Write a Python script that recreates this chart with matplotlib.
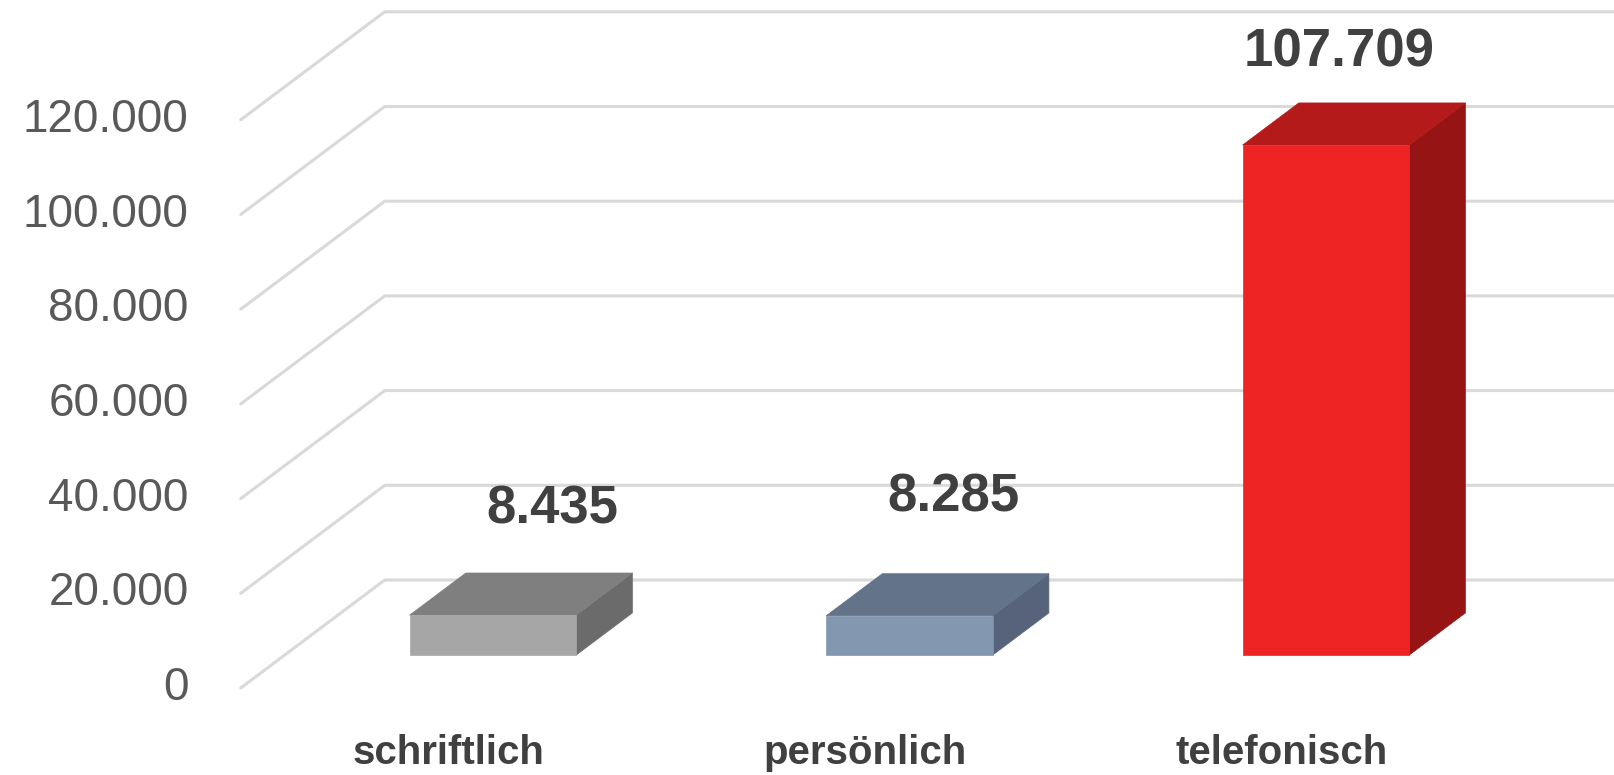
import matplotlib
matplotlib.use("Agg")
import matplotlib.pyplot as plt
from matplotlib.patches import Polygon

plt.rcParams["font.family"] = ["Liberation Sans", "DejaVu Sans"]

# Daten
categories = ["schriftlich", "persönlich", "telefonisch"]
values = [8435, 8285, 107709]
value_labels = ["8.435", "8.285", "107.709"]
y_ticks = [0, 20000, 40000, 60000, 80000, 100000, 120000]
y_tick_labels = ["0", "20.000", "40.000", "60.000", "80.000", "100.000", "120.000"]

# Farben (Vorderseite, Oberseite, Seite)
face_colors = ["#A6A6A6", "#8497B0", "#EE2424"]
top_colors = ["#7F7F7F", "#637489", "#B41A1A"]
side_colors = ["#6B6B6B", "#56637A", "#961414"]

# Geometrie der Pseudo-3D-Darstellung
W, H, DPI = 1614, 775, 100
px_x = 416.5            # Pixel pro Kategorie
x0_px = 449             # Pixel der Kategorie 0 (Vorderebene)
px_per_val = 94.7 / 20000
zero_px = 688           # Pixel (von oben) von 0 auf der Vorderebene
DX = 144 / px_x         # Tiefenversatz in x (Kategorieeinheiten)
DY = 108 / px_per_val   # Tiefenversatz in y (Werteinheiten)
bar_w = 0.4
d_front = 0.305
d_bar = 0.39

fig = plt.figure(figsize=(W / DPI, H / DPI), dpi=DPI)
ax = fig.add_axes([0, 0, 1, 1])
ax.set_xlim(-x0_px / px_x, (W - x0_px) / px_x)
ax.set_ylim(-(H - zero_px) / px_per_val, zero_px / px_per_val)
ax.axis("off")

grid_col = "#D9D9D9"
x_left = -0.5
x_right = len(categories) - 0.5 + DX + 0.5
for v, lab in zip(y_ticks, y_tick_labels):
    ax.plot([x_left, x_left + DX, x_right], [v, v + DY, v + DY],
            color=grid_col, lw=2.2, solid_capstyle="round", zorder=1)
    ax.annotate(lab, (x_left, v), xytext=(-52, 0), textcoords="offset pixels",
                ha="right", va="center", fontsize=33, color="#595959")

# Versatz der Datenbeschriftungen (Pixel, relativ zur hinteren Oberkante)
label_offsets = [(3, -64), (-12, -76), (-43, -50)]

for i, (v, cat) in enumerate(zip(values, categories)):
    bx = i - bar_w / 2 + d_front * DX
    by = d_front * DY
    ddx, ddy = d_bar * DX, d_bar * DY
    front = Polygon([(bx, by), (bx + bar_w, by), (bx + bar_w, by + v), (bx, by + v)],
                    closed=True, fc=face_colors[i], ec=face_colors[i], lw=0.5, zorder=3)
    top = Polygon([(bx, by + v), (bx + bar_w, by + v),
                   (bx + bar_w + ddx, by + v + ddy), (bx + ddx, by + v + ddy)],
                  closed=True, fc=top_colors[i], ec=top_colors[i], lw=0.5, zorder=3)
    side = Polygon([(bx + bar_w, by), (bx + bar_w + ddx, by + ddy),
                    (bx + bar_w + ddx, by + v + ddy), (bx + bar_w, by + v)],
                   closed=True, fc=side_colors[i], ec=side_colors[i], lw=0.5, zorder=3)
    for p in (side, top, front):
        ax.add_patch(p)

    # Datenbeschriftung
    ox, oy = label_offsets[i]
    ax.annotate(value_labels[i], (i + (d_front + d_bar) * DX, v + (d_front + d_bar) * DY),
                xytext=(ox, -oy), textcoords="offset pixels",
                ha="center", va="center", fontsize=38, fontweight="bold",
                color="#404040", zorder=4)

    # Kategorienbeschriftung
    ax.annotate(cat, (i, 0), xytext=(0, -65), textcoords="offset pixels",
                ha="center", va="center", fontsize=29, fontweight="bold",
                color="#404040")

fig.savefig("out.png", dpi=DPI)
